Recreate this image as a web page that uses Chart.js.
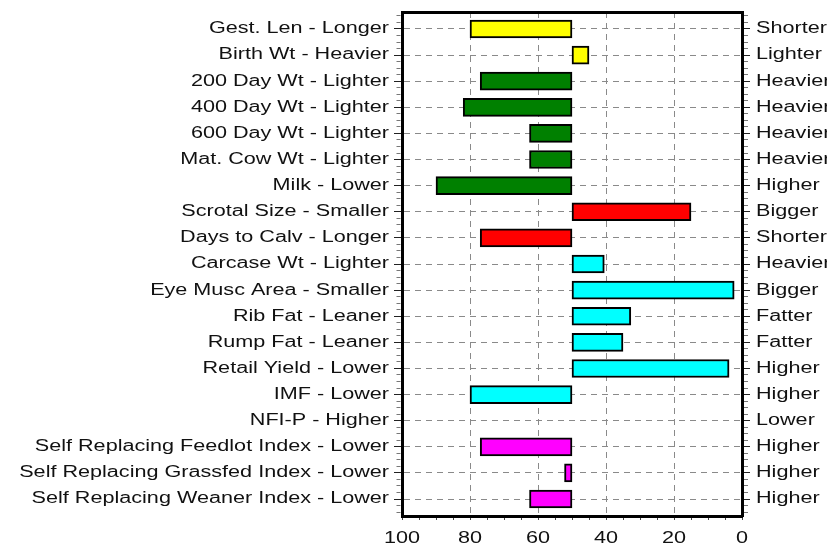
<!DOCTYPE html>
<html>
<head>
<meta charset="utf-8">
<script src="https://cdn.jsdelivr.net/npm/chart.js@4/dist/chart.umd.min.js"></script>
<style>
  html, body { margin: 0; padding: 0; background: #fff; }
  canvas { display: block; }
</style>
</head>
<body>
<canvas id="c" width="827" height="545"></canvas>
<script>
// ---- data ----
const categories = [
  "Gest. Len - Longer",
  "Birth Wt - Heavier",
  "200 Day Wt - Lighter",
  "400 Day Wt - Lighter",
  "600 Day Wt - Lighter",
  "Mat. Cow Wt - Lighter",
  "Milk - Lower",
  "Scrotal Size - Smaller",
  "Days to Calv - Longer",
  "Carcase Wt - Lighter",
  "Eye Musc Area - Smaller",
  "Rib Fat - Leaner",
  "Rump Fat - Leaner",
  "Retail Yield - Lower",
  "IMF - Lower",
  "NFI-P - Higher",
  "Self Replacing Feedlot Index - Lower",
  "Self Replacing Grassfed Index - Lower",
  "Self Replacing Weaner Index - Lower"
];
const rightLabels = [
  "Shorter", "Lighter", "Heavier", "Heavier", "Heavier", "Heavier", "Higher",
  "Bigger", "Shorter", "Heavier", "Bigger", "Fatter", "Fatter", "Higher",
  "Higher", "Lower", "Higher", "Higher", "Higher"
];
const baseValue = 50;
const percentiles = [80, 45, 77, 82, 62.5, 62.5, 90, 15, 77, 40.5, 2.3, 32.7, 35, 3.8, 80, null, 77, 52.2, 62.5];
const groups = ["calving", "calving", "growth", "growth", "growth", "growth", "growth",
  "fertility", "fertility", "carcase", "carcase", "carcase", "carcase", "carcase", "carcase",
  "feed", "index", "index", "index"];
const xTickValues = [0, 20, 40, 60, 80, 100];

// ---- styles ----
const groupColors = {
  calving: "#FFFF00", growth: "#008000", fertility: "#FF0000",
  carcase: "#00FFFF", feed: "#00FFFF", index: "#FF00FF"
};
const FONT = { family: "'Liberation Sans', Arial, sans-serif", size: 16 };
const TEXT = "#111";
const GRID = "#8a8a8a";
const TEXT_STRETCH = 1.35;
const isInt = v => Math.abs(v - Math.round(v)) < 1e-6;

// draws every text horizontally widened, like the reference's wide lettering
const stretchPlugin = {
  id: "stretch",
  beforeDraw(chart) {
    const ctx = chart.ctx;
    if (ctx.__stretched) return;
    const orig = ctx.fillText;
    ctx.fillText = function (text, x, y, maxWidth) {
      this.save();
      this.translate(x, y);
      this.scale(TEXT_STRETCH, 1);
      orig.call(this, text, 0, 0);
      this.restore();
    };
    ctx.__stretched = true;
  }
};

function noPad(s) {
  s.paddingTop = 0; s.paddingBottom = 0; s.paddingLeft = 0; s.paddingRight = 0;
}

function yScale(position, labels, width) {
  const left = position === "left";
  return {
    type: "linear", position, min: -0.65, max: 18.65, reverse: true,
    offset: false,
    ticks: {
      stepSize: 0.25, autoSkip: false, includeBounds: false,
      padding: left ? 5 : 6, color: TEXT, font: FONT,
      callback: v => isInt(v) ? labels[Math.round(v)] : ""
    },
    grid: {
      offset: false,
      drawOnChartArea: left,
      color: c => (c.tick && isInt(c.tick.value)) ? GRID : "transparent",
      tickColor: c => (c.tick && isInt(c.tick.value)) ? "#222" : "#777",
      tickBorderDash: c => (c.tick && isInt(c.tick.value)) ? [] : (left ? [0, 2.5, 4, 100] : [4, 100]),
      tickLength: 8, lineWidth: 1
    },
    border: { display: true, color: "#000", width: 3, dash: [6, 5] },
    afterFit: s => { s.width = width; noPad(s); }
  };
}

new Chart(document.getElementById("c"), {
  type: "bar",
  data: {
    datasets: [{
      data: categories.map((c, i) => ({ y: i, x: percentiles[i] == null ? null : [baseValue, percentiles[i]] })),
      backgroundColor: groups.map(g => groupColors[g]),
      borderColor: "#000",
      borderWidth: 2,
      borderSkipped: false,
      barThickness: 18,
      xAxisID: "x", yAxisID: "y"
    }]
  },
  options: {
    indexAxis: "y",
    responsive: false,
    animation: false,
    layout: { padding: { top: 12, left: 0, right: 0, bottom: 0 } },
    plugins: { legend: { display: false }, tooltip: { enabled: false } },
    scales: {
      x: {
        type: "linear", position: "bottom", min: 0, max: 100, reverse: true,
        offset: false,
        ticks: {
          stepSize: 5, autoSkip: false, maxRotation: 0, padding: 9, color: TEXT, font: FONT,
          callback: v => xTickValues.includes(v) ? v : ""
        },
        grid: {
          offset: false,
          color: c => (c.tick && xTickValues.includes(c.tick.value) && c.tick.value > 0 && c.tick.value < 100) ? GRID : "transparent",
          tickColor: "#444",
          tickBorderDash: [3, 100],
          tickLength: 4, lineWidth: 1
        },
        border: { display: true, color: "#000", width: 3, dash: [6, 5] },
        afterFit: s => { s.height = 29; noPad(s); }
      },
      xTop: {
        type: "linear", position: "top", min: 0, max: 100, reverse: true,
        ticks: { display: false },
        grid: { display: false, drawTicks: false },
        border: { display: true, color: "#000", width: 3 },
        afterFit: s => { s.height = 0; noPad(s); }
      },
      y: yScale("left", categories, 402),
      y2: yScale("right", rightLabels, 85)
    }
  },
  plugins: [stretchPlugin]
});
</script>
</body>
</html>
